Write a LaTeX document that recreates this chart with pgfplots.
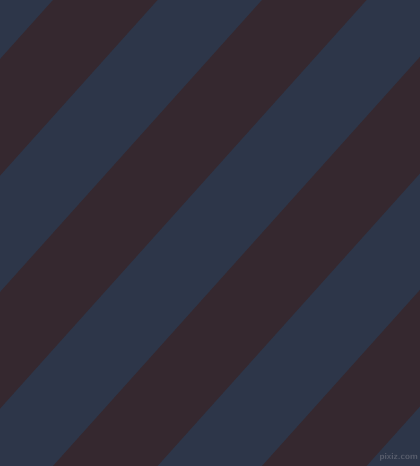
\documentclass[border=0pt]{standalone}
\usepackage{pgfplots}
\pgfplotsset{compat=1.18}
\definecolor{navy}{HTML}{2D3649}
\definecolor{wine}{HTML}{35282F}
\definecolor{mark}{HTML}{585D6C}
\begin{document}
\begin{tikzpicture}
\begin{axis}[
  width=420bp, height=466bp,
  scale only axis,
  hide axis,
  xmin=0, xmax=420,
  ymin=0, ymax=466,
  y dir=reverse,
  enlargelimits=false,
]
% background
\addplot[fill=navy, draw=none] coordinates {(0,0) (420,0) (420,466) (0,466)};
% dark stripes: top edge x, bottom edge x (shift of 418 over the height)
\addplot[fill=wine, draw=none] coordinates {(53,0) (157.5,0) (-260.5,466) (-365,466)};
\addplot[fill=wine, draw=none] coordinates {(262,0) (366.5,0) (-51.5,466) (-156,466)};
\addplot[fill=wine, draw=none] coordinates {(471,0) (575.5,0) (157.5,466) (53,466)};
\addplot[fill=wine, draw=none] coordinates {(680,0) (784.5,0) (366.5,466) (262,466)};
\node[anchor=south east, text=mark, font=\sffamily\bfseries\fontsize{9}{10}\selectfont, inner sep=0pt]
  at (axis cs:418,461) {pixiz.com};
\end{axis}
\end{tikzpicture}
\end{document}
